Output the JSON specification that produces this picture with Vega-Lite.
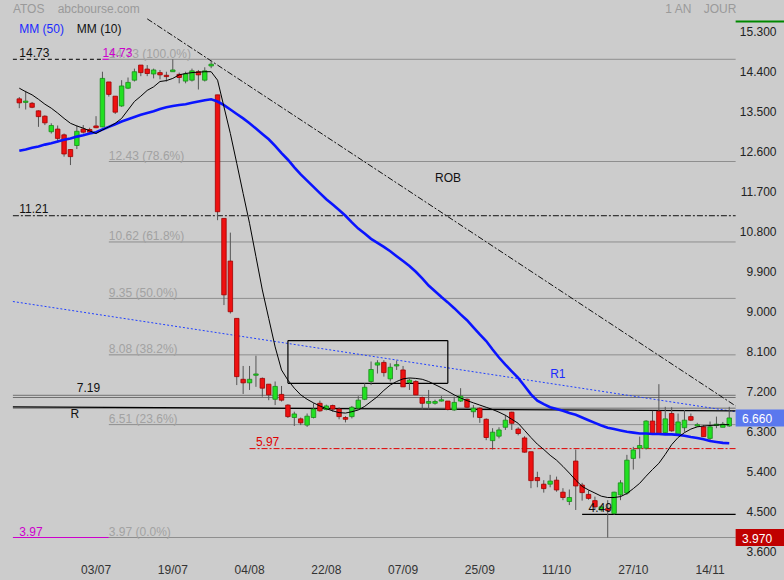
{
"$schema": "https://vega.github.io/schema/vega-lite/v6.json",
"width": 784,
"height": 560,
"autosize": {"type": "none"},
"padding": {"left": 0, "right": 0, "top": 0, "bottom": 20},
"background": "#cccccc",
"config": {"view": {"stroke": null}, "font": "Liberation Sans", "text": {"font": "Liberation Sans"},
 "axisY": {"ticks": false, "domain": false, "grid": false, "labelAlign": "right", "labelPadding": -8, "labelOffset": -2.5,
  "labelBaseline": "middle", "labelFontSize": 12, "labelColor": "#222222", "labelFont": "Liberation Sans"}},
"datasets": {
"candles": [
{"d":"2023-06-15","o":13.84,"h":13.88,"l":13.63,"c":13.75,"ma10":14.08,"ma50":12.67},
{"d":"2023-06-16","o":13.76,"h":14.02,"l":13.60,"c":13.79,"ma10":14.00,"ma50":12.70},
{"d":"2023-06-19","o":13.74,"h":13.77,"l":13.63,"c":13.65,"ma10":13.93,"ma50":12.74},
{"d":"2023-06-20","o":13.57,"h":13.58,"l":13.21,"c":13.44,"ma10":13.83,"ma50":12.77},
{"d":"2023-06-21","o":13.45,"h":13.47,"l":13.25,"c":13.30,"ma10":13.72,"ma50":12.81},
{"d":"2023-06-22","o":13.10,"h":13.29,"l":13.06,"c":13.24,"ma10":13.63,"ma50":12.84},
{"d":"2023-06-23","o":13.16,"h":13.24,"l":12.86,"c":12.95,"ma10":13.52,"ma50":12.88},
{"d":"2023-06-26","o":13.03,"h":13.06,"l":12.54,"c":12.60,"ma10":13.40,"ma50":12.92},
{"d":"2023-06-27","o":12.70,"h":12.70,"l":12.35,"c":12.54,"ma10":13.29,"ma50":12.95},
{"d":"2023-06-28","o":12.79,"h":13.24,"l":12.71,"c":13.11,"ma10":13.23,"ma50":12.99},
{"d":"2023-06-29","o":13.16,"h":13.25,"l":13.06,"c":13.09,"ma10":13.18,"ma50":13.02},
{"d":"2023-06-30","o":13.15,"h":13.19,"l":13.06,"c":13.09,"ma10":13.12,"ma50":13.06},
{"d":"2023-07-03","o":13.23,"h":13.45,"l":13.18,"c":13.19,"ma10":13.06,"ma50":13.09},
{"d":"2023-07-04","o":13.21,"h":14.45,"l":13.20,"c":14.30,"ma10":13.14,"ma50":13.15},
{"d":"2023-07-05","o":14.22,"h":14.22,"l":13.89,"c":13.94,"ma10":13.21,"ma50":13.21},
{"d":"2023-07-06","o":13.90,"h":13.90,"l":13.50,"c":13.54,"ma10":13.29,"ma50":13.27},
{"d":"2023-07-07","o":13.68,"h":14.26,"l":13.66,"c":14.13,"ma10":13.40,"ma50":13.33},
{"d":"2023-07-10","o":14.08,"h":14.32,"l":14.06,"c":14.21,"ma10":13.59,"ma50":13.38},
{"d":"2023-07-11","o":14.26,"h":14.52,"l":14.23,"c":14.45,"ma10":13.78,"ma50":13.43},
{"d":"2023-07-12","o":14.60,"h":14.60,"l":14.35,"c":14.43,"ma10":13.90,"ma50":13.48},
{"d":"2023-07-13","o":14.51,"h":14.60,"l":14.35,"c":14.41,"ma10":14.03,"ma50":13.52},
{"d":"2023-07-14","o":14.40,"h":14.52,"l":14.30,"c":14.49,"ma10":14.11,"ma50":13.56},
{"d":"2023-07-17","o":14.43,"h":14.49,"l":14.28,"c":14.38,"ma10":14.23,"ma50":13.61},
{"d":"2023-07-18","o":14.37,"h":14.45,"l":14.23,"c":14.34,"ma10":14.25,"ma50":13.65},
{"d":"2023-07-19","o":14.45,"h":14.73,"l":14.45,"c":14.49,"ma10":14.30,"ma50":13.68},
{"d":"2023-07-20","o":14.39,"h":14.43,"l":14.19,"c":14.32,"ma10":14.38,"ma50":13.70},
{"d":"2023-07-21","o":14.24,"h":14.45,"l":14.19,"c":14.40,"ma10":14.41,"ma50":13.72},
{"d":"2023-07-24","o":14.26,"h":14.52,"l":14.23,"c":14.47,"ma10":14.43,"ma50":13.75},
{"d":"2023-07-25","o":14.45,"h":14.49,"l":14.05,"c":14.38,"ma10":14.44,"ma50":13.78},
{"d":"2023-07-26","o":14.26,"h":14.55,"l":14.23,"c":14.47,"ma10":14.45,"ma50":13.81},
{"d":"2023-07-27","o":14.58,"h":14.70,"l":14.53,"c":14.62,"ma10":14.45,"ma50":13.83},
{"d":"2023-07-28","o":13.93,"h":13.93,"l":11.11,"c":11.30,"ma10":14.26,"ma50":13.78},
{"d":"2023-07-31","o":11.15,"h":11.15,"l":9.20,"c":9.43,"ma10":13.66,"ma50":13.70},
{"d":"2023-08-01","o":10.19,"h":10.83,"l":9.01,"c":9.05,"ma10":13.06,"ma50":13.60},
{"d":"2023-08-02","o":8.90,"h":8.90,"l":7.40,"c":7.59,"ma10":12.39,"ma50":13.50},
{"d":"2023-08-03","o":7.53,"h":7.83,"l":7.20,"c":7.45,"ma10":11.71,"ma50":13.40},
{"d":"2023-08-04","o":7.45,"h":7.83,"l":7.29,"c":7.53,"ma10":11.04,"ma50":13.29},
{"d":"2023-08-07","o":7.62,"h":8.06,"l":7.36,"c":7.65,"ma10":10.29,"ma50":13.17},
{"d":"2023-08-08","o":7.55,"h":7.57,"l":7.14,"c":7.33,"ma10":9.54,"ma50":13.05},
{"d":"2023-08-09","o":7.42,"h":7.42,"l":7.06,"c":7.18,"ma10":8.90,"ma50":12.93},
{"d":"2023-08-10","o":7.08,"h":7.48,"l":6.95,"c":7.37,"ma10":8.26,"ma50":12.78},
{"d":"2023-08-11","o":7.19,"h":7.38,"l":7.03,"c":7.06,"ma10":7.74,"ma50":12.62},
{"d":"2023-08-14","o":6.95,"h":6.97,"l":6.66,"c":6.69,"ma10":7.51,"ma50":12.47},
{"d":"2023-08-15","o":6.67,"h":6.80,"l":6.48,"c":6.75,"ma10":7.33,"ma50":12.30},
{"d":"2023-08-16","o":6.64,"h":6.67,"l":6.50,"c":6.55,"ma10":7.18,"ma50":12.14},
{"d":"2023-08-17","o":6.50,"h":6.76,"l":6.46,"c":6.70,"ma10":7.08,"ma50":12.00},
{"d":"2023-08-18","o":6.67,"h":6.99,"l":6.65,"c":6.86,"ma10":7.00,"ma50":11.86},
{"d":"2023-08-21","o":6.99,"h":7.05,"l":6.80,"c":6.82,"ma10":6.93,"ma50":11.72},
{"d":"2023-08-22","o":6.85,"h":6.96,"l":6.83,"c":6.93,"ma10":6.87,"ma50":11.58},
{"d":"2023-08-23","o":6.94,"h":6.96,"l":6.80,"c":6.86,"ma10":6.82,"ma50":11.46},
{"d":"2023-08-24","o":6.86,"h":6.90,"l":6.63,"c":6.69,"ma10":6.78,"ma50":11.34},
{"d":"2023-08-25","o":6.67,"h":6.70,"l":6.56,"c":6.63,"ma10":6.77,"ma50":11.21},
{"d":"2023-08-28","o":6.69,"h":6.93,"l":6.65,"c":6.90,"ma10":6.80,"ma50":11.06},
{"d":"2023-08-29","o":6.88,"h":7.15,"l":6.86,"c":7.06,"ma10":6.84,"ma50":10.92},
{"d":"2023-08-30","o":7.08,"h":7.44,"l":7.06,"c":7.35,"ma10":6.92,"ma50":10.81},
{"d":"2023-08-31","o":7.48,"h":7.93,"l":7.40,"c":7.75,"ma10":7.03,"ma50":10.69},
{"d":"2023-09-01","o":7.85,"h":7.96,"l":7.66,"c":7.90,"ma10":7.14,"ma50":10.60},
{"d":"2023-09-04","o":7.91,"h":7.96,"l":7.59,"c":7.68,"ma10":7.28,"ma50":10.51},
{"d":"2023-09-05","o":7.54,"h":7.89,"l":7.48,"c":7.80,"ma10":7.40,"ma50":10.41},
{"d":"2023-09-06","o":7.83,"h":7.95,"l":7.74,"c":7.86,"ma10":7.48,"ma50":10.30},
{"d":"2023-09-07","o":7.74,"h":7.83,"l":7.36,"c":7.36,"ma10":7.54,"ma50":10.19},
{"d":"2023-09-08","o":7.46,"h":7.55,"l":7.29,"c":7.51,"ma10":7.56,"ma50":10.08},
{"d":"2023-09-11","o":7.48,"h":7.51,"l":7.18,"c":7.18,"ma10":7.55,"ma50":9.95},
{"d":"2023-09-12","o":7.12,"h":7.14,"l":6.85,"c":6.99,"ma10":7.53,"ma50":9.80},
{"d":"2023-09-13","o":6.99,"h":7.29,"l":6.85,"c":7.03,"ma10":7.48,"ma50":9.64},
{"d":"2023-09-14","o":6.99,"h":7.07,"l":6.96,"c":7.03,"ma10":7.41,"ma50":9.51},
{"d":"2023-09-15","o":7.04,"h":7.15,"l":7.03,"c":7.07,"ma10":7.34,"ma50":9.38},
{"d":"2023-09-18","o":7.04,"h":7.04,"l":6.83,"c":6.85,"ma10":7.26,"ma50":9.26},
{"d":"2023-09-19","o":6.84,"h":7.14,"l":6.82,"c":7.01,"ma10":7.18,"ma50":9.13},
{"d":"2023-09-20","o":7.04,"h":7.33,"l":7.02,"c":7.15,"ma10":7.11,"ma50":8.99},
{"d":"2023-09-21","o":7.08,"h":7.10,"l":6.88,"c":6.90,"ma10":7.05,"ma50":8.86},
{"d":"2023-09-22","o":6.80,"h":6.95,"l":6.67,"c":6.88,"ma10":7.00,"ma50":8.70},
{"d":"2023-09-25","o":6.88,"h":6.90,"l":6.55,"c":6.67,"ma10":6.95,"ma50":8.54},
{"d":"2023-09-26","o":6.63,"h":6.65,"l":6.16,"c":6.22,"ma10":6.90,"ma50":8.39},
{"d":"2023-09-27","o":6.15,"h":6.43,"l":5.95,"c":6.34,"ma10":6.85,"ma50":8.20},
{"d":"2023-09-28","o":6.25,"h":6.45,"l":6.20,"c":6.39,"ma10":6.79,"ma50":8.02},
{"d":"2023-09-29","o":6.45,"h":6.73,"l":6.39,"c":6.61,"ma10":6.72,"ma50":7.86},
{"d":"2023-10-02","o":6.79,"h":6.80,"l":6.39,"c":6.54,"ma10":6.63,"ma50":7.71},
{"d":"2023-10-03","o":6.41,"h":6.45,"l":6.27,"c":6.31,"ma10":6.54,"ma50":7.56},
{"d":"2023-10-04","o":6.21,"h":6.25,"l":5.88,"c":5.89,"ma10":6.38,"ma50":7.38},
{"d":"2023-10-05","o":5.90,"h":5.90,"l":5.08,"c":5.25,"ma10":6.22,"ma50":7.19},
{"d":"2023-10-06","o":5.32,"h":5.45,"l":5.10,"c":5.25,"ma10":6.07,"ma50":7.05},
{"d":"2023-10-09","o":5.17,"h":5.26,"l":4.98,"c":5.07,"ma10":5.95,"ma50":6.97},
{"d":"2023-10-10","o":5.17,"h":5.38,"l":5.10,"c":5.24,"ma10":5.82,"ma50":6.90},
{"d":"2023-10-11","o":5.26,"h":5.34,"l":5.00,"c":5.04,"ma10":5.71,"ma50":6.86},
{"d":"2023-10-12","o":4.99,"h":5.08,"l":4.81,"c":4.87,"ma10":5.57,"ma50":6.82},
{"d":"2023-10-13","o":4.78,"h":5.05,"l":4.70,"c":4.87,"ma10":5.42,"ma50":6.77},
{"d":"2023-10-16","o":5.69,"h":5.95,"l":4.59,"c":5.13,"ma10":5.26,"ma50":6.73},
{"d":"2023-10-17","o":5.15,"h":5.20,"l":4.80,"c":4.98,"ma10":5.12,"ma50":6.67},
{"d":"2023-10-18","o":4.94,"h":5.03,"l":4.82,"c":4.85,"ma10":5.04,"ma50":6.61},
{"d":"2023-10-19","o":4.80,"h":4.89,"l":4.59,"c":4.66,"ma10":4.97,"ma50":6.55},
{"d":"2023-10-20","o":4.59,"h":4.70,"l":4.55,"c":4.66,"ma10":4.90,"ma50":6.49},
{"d":"2023-10-23","o":4.62,"h":4.81,"l":3.97,"c":4.58,"ma10":4.87,"ma50":6.44},
{"d":"2023-10-24","o":4.51,"h":5.00,"l":4.48,"c":4.99,"ma10":4.87,"ma50":6.41},
{"d":"2023-10-25","o":4.93,"h":5.26,"l":4.81,"c":5.20,"ma10":4.89,"ma50":6.38},
{"d":"2023-10-26","o":4.97,"h":5.83,"l":4.93,"c":5.71,"ma10":4.96,"ma50":6.35},
{"d":"2023-10-27","o":5.75,"h":6.01,"l":5.50,"c":5.94,"ma10":5.07,"ma50":6.33},
{"d":"2023-10-30","o":5.98,"h":6.24,"l":5.75,"c":6.04,"ma10":5.19,"ma50":6.31},
{"d":"2023-10-31","o":5.98,"h":6.61,"l":5.95,"c":6.59,"ma10":5.35,"ma50":6.31},
{"d":"2023-11-01","o":6.59,"h":6.82,"l":6.29,"c":6.31,"ma10":5.50,"ma50":6.30},
{"d":"2023-11-02","o":6.81,"h":7.42,"l":6.30,"c":6.31,"ma10":5.64,"ma50":6.30},
{"d":"2023-11-03","o":6.33,"h":6.91,"l":6.31,"c":6.64,"ma10":5.84,"ma50":6.29},
{"d":"2023-11-06","o":6.76,"h":6.90,"l":6.35,"c":6.37,"ma10":6.06,"ma50":6.29},
{"d":"2023-11-07","o":6.29,"h":6.76,"l":6.29,"c":6.57,"ma10":6.22,"ma50":6.28},
{"d":"2023-11-08","o":6.44,"h":6.84,"l":6.35,"c":6.61,"ma10":6.33,"ma50":6.26},
{"d":"2023-11-09","o":6.69,"h":6.76,"l":6.59,"c":6.61,"ma10":6.41,"ma50":6.23},
{"d":"2023-11-10","o":6.48,"h":6.55,"l":6.46,"c":6.51,"ma10":6.46,"ma50":6.21},
{"d":"2023-11-13","o":6.46,"h":6.50,"l":6.24,"c":6.24,"ma10":6.48,"ma50":6.18},
{"d":"2023-11-14","o":6.20,"h":6.58,"l":6.12,"c":6.46,"ma10":6.49,"ma50":6.14},
{"d":"2023-11-15","o":6.49,"h":6.69,"l":6.43,"c":6.52,"ma10":6.50,"ma50":6.12},
{"d":"2023-11-16","o":6.45,"h":6.57,"l":6.45,"c":6.52,"ma10":6.51,"ma50":6.10},
{"d":"2023-11-17","o":6.48,"h":6.91,"l":6.46,"c":6.66,"ma10":6.51,"ma50":6.09}
],
"segs": [
{"kind":"fib","d":"2023-07-05","d2":"2023-11-20","v":14.73,"v2":14.73},
{"kind":"fib","d":"2023-07-05","d2":"2023-11-20","v":12.43,"v2":12.43},
{"kind":"fib","d":"2023-07-05","d2":"2023-11-20","v":10.62,"v2":10.62},
{"kind":"fib","d":"2023-07-05","d2":"2023-11-20","v":9.35,"v2":9.35},
{"kind":"fib","d":"2023-07-05","d2":"2023-11-20","v":8.08,"v2":8.08},
{"kind":"fib","d":"2023-07-05","d2":"2023-11-20","v":6.51,"v2":6.51},
{"kind":"fib","d":"2023-07-05","d2":"2023-11-20","v":3.97,"v2":3.97},
{"kind":"gray","d":"2023-06-14","d2":"2023-11-20","v":7.17,"v2":7.17},
{"kind":"gray","d":"2023-06-14","d2":"2023-11-20","v":7.12,"v2":7.12},
{"kind":"gray","d":"2023-06-14","d2":"2023-11-20","v":6.88,"v2":6.88},
{"kind":"pivot","d":"2023-06-14","d2":"2023-07-04","v":14.73,"v2":14.73},
{"kind":"magenta","d":"2023-07-04","d2":"2023-07-05","v":14.73,"v2":14.73},
{"kind":"magenta","d":"2023-06-14","d2":"2023-07-05","v":3.97,"v2":3.97},
{"kind":"dashdot","d":"2023-06-14","d2":"2023-11-20","v":11.21,"v2":11.21},
{"kind":"dashdot","d":"2023-07-13","d2":"2023-11-20","v":15.64,"v2":6.93},
{"kind":"red","d":"2023-08-04","d2":"2023-11-20","v":5.97,"v2":5.97},
{"kind":"solid","d":"2023-06-14","d2":"2023-11-20","v":6.91,"v2":6.82},
{"kind":"solid","d":"2023-10-17","d2":"2023-11-20","v":4.49,"v2":4.49},
{"kind":"solid","d":"2023-08-14","d2":"2023-09-18","v":8.40,"v2":8.40},
{"kind":"solid","d":"2023-08-14","d2":"2023-09-18","v":7.44,"v2":7.44},
{"kind":"solid","d":"2023-08-14","d2":"2023-08-14","v":7.44,"v2":8.40},
{"kind":"solid","d":"2023-09-18","d2":"2023-09-18","v":7.44,"v2":8.40},
{"kind":"r1","d":"2023-06-14","d2":"2023-11-20","v":9.28,"v2":6.80},
{"kind":"green","d":"2023-11-20","d2":"2023-11-30","v":15.58,"v2":15.58}
],
"tags": [
{"kind":"last","d":"2023-11-20","d2":"2023-11-30","v":6.66},
{"kind":"low","d":"2023-11-20","d2":"2023-11-30","v":3.97}
],
"labels": [
{"kind":"header","d":"2023-06-14","v":15.86,"text":"ATOS"},
{"kind":"header","d":"2023-06-23","v":15.86,"text":"abcbourse.com"},
{"kind":"header","d":"2023-11-03","v":15.87,"text":"1 AN"},
{"kind":"header","d":"2023-11-13","v":15.87,"text":"JOUR"},
{"kind":"blue","d":"2023-06-15","v":15.405,"text":"MM (50)"},
{"kind":"black","d":"2023-06-28","v":15.405,"text":"MM (10)"},
{"kind":"black","d":"2023-06-15","v":14.88,"text":"14.73"},
{"kind":"fib","d":"2023-07-05","v":14.854,"text":"14.73 (100.0%)"},
{"kind":"magenta","d":"2023-07-04","v":14.88,"text":"14.73"},
{"kind":"fib","d":"2023-07-05","v":12.554,"text":"12.43 (78.6%)"},
{"kind":"fib","d":"2023-07-05","v":10.744,"text":"10.62 (61.8%)"},
{"kind":"fib","d":"2023-07-05","v":9.474,"text":"9.35 (50.0%)"},
{"kind":"fib","d":"2023-07-05","v":8.204,"text":"8.08 (38.2%)"},
{"kind":"fib","d":"2023-07-05","v":6.634,"text":"6.51 (23.6%)"},
{"kind":"fib","d":"2023-07-05","v":4.094,"text":"3.97 (0.0%)"},
{"kind":"black","d":"2023-06-15","v":11.36,"text":"11.21"},
{"kind":"black","d":"2023-06-28","v":7.33,"text":"7.19"},
{"kind":"black","d":"2023-06-27","v":6.75,"text":"R"},
{"kind":"red","d":"2023-08-07","v":6.12,"text":"5.97"},
{"kind":"black","d":"2023-10-18","v":4.625,"text":"4.49"},
{"kind":"black","d":"2023-09-14","v":12.07,"text":"ROB"},
{"kind":"blue","d":"2023-10-10","v":7.66,"text":"R1"},
{"kind":"magenta","d":"2023-06-15","v":4.10,"text":"3.97"},
{"kind":"tag","d":"2023-11-21","v":6.63,"text":"6.660"},
{"kind":"tag","d":"2023-11-21","v":3.94,"text":"3.970"}
]
},
"encoding": {
"x": {"field": "d", "type": "ordinal",
 "scale": {"type": "band", "paddingInner": 0, "paddingOuter": 0, "range": [9.7, 790.0],
 "domain": ["2023-06-14","2023-06-15","2023-06-16","2023-06-19","2023-06-20","2023-06-21","2023-06-22","2023-06-23","2023-06-26","2023-06-27","2023-06-28","2023-06-29","2023-06-30","2023-07-03","2023-07-04","2023-07-05","2023-07-06","2023-07-07","2023-07-10","2023-07-11","2023-07-12","2023-07-13","2023-07-14","2023-07-17","2023-07-18","2023-07-19","2023-07-20","2023-07-21","2023-07-24","2023-07-25","2023-07-26","2023-07-27","2023-07-28","2023-07-31","2023-08-01","2023-08-02","2023-08-03","2023-08-04","2023-08-07","2023-08-08","2023-08-09","2023-08-10","2023-08-11","2023-08-14","2023-08-15","2023-08-16","2023-08-17","2023-08-18","2023-08-21","2023-08-22","2023-08-23","2023-08-24","2023-08-25","2023-08-28","2023-08-29","2023-08-30","2023-08-31","2023-09-01","2023-09-04","2023-09-05","2023-09-06","2023-09-07","2023-09-08","2023-09-11","2023-09-12","2023-09-13","2023-09-14","2023-09-15","2023-09-18","2023-09-19","2023-09-20","2023-09-21","2023-09-22","2023-09-25","2023-09-26","2023-09-27","2023-09-28","2023-09-29","2023-10-02","2023-10-03","2023-10-04","2023-10-05","2023-10-06","2023-10-09","2023-10-10","2023-10-11","2023-10-12","2023-10-13","2023-10-16","2023-10-17","2023-10-18","2023-10-19","2023-10-20","2023-10-23","2023-10-24","2023-10-25","2023-10-26","2023-10-27","2023-10-30","2023-10-31","2023-11-01","2023-11-02","2023-11-03","2023-11-06","2023-11-07","2023-11-08","2023-11-09","2023-11-10","2023-11-13","2023-11-14","2023-11-15","2023-11-16","2023-11-17","2023-11-20","2023-11-21","2023-11-22","2023-11-23","2023-11-24","2023-11-27","2023-11-28","2023-11-29","2023-11-30"]},
 "axis": {"title": null, "values": ["2023-07-03","2023-07-19","2023-08-04","2023-08-22","2023-09-07","2023-09-25","2023-10-11","2023-10-27","2023-11-14"],
  "labelExpr": "substring(datum.value, 8, 10) + '/' + substring(datum.value, 5, 7)",
  "bandPosition": 0, "ticks": false, "domain": false, "grid": false, "labelAngle": 0, "labelPadding": 4,
  "labelFontSize": 12, "labelColor": "#333333", "labelFont": "Liberation Sans"}}
},
"layer": [
{"data": {"name": "segs"}, "transform": [{"filter": "datum.kind === 'fib'"}],
 "mark": {"type": "rule", "color": "#8e8e8e", "strokeWidth": 1},
 "encoding": {"x2": {"field": "d2"},
  "y": {"field": "v", "type": "quantitative", "scale": {"domain": [3.464, 16.064], "nice": false, "zero": false},
   "axis": {"orient": "right", "title": null, "format": ".3f", "values": [3.6, 4.5, 5.4, 6.3, 7.2, 8.1, 9.0, 9.9, 10.8, 11.7, 12.6, 13.5, 14.4, 15.3]}},
  "y2": {"field": "v2"}}},
{"data": {"name": "segs"}, "transform": [{"filter": "datum.kind === 'gray'"}],
 "mark": {"type": "rule", "color": "#707070", "strokeWidth": 1},
 "encoding": {"x2": {"field": "d2"}, "y": {"field": "v", "type": "quantitative", "scale": {"domain": [3.464, 16.064], "nice": false, "zero": false}, "axis": {"orient": "right", "title": null, "format": ".3f", "values": [3.6, 4.5, 5.4, 6.3, 7.2, 8.1, 9.0, 9.9, 10.8, 11.7, 12.6, 13.5, 14.4, 15.3]}}, "y2": {"field": "v2"}}},
{"data": {"name": "segs"}, "transform": [{"filter": "datum.kind === 'pivot'"}],
 "mark": {"type": "rule", "color": "#000000", "strokeWidth": 1, "strokeDash": [4, 3]},
 "encoding": {"x2": {"field": "d2"}, "y": {"field": "v", "type": "quantitative", "scale": {"domain": [3.464, 16.064], "nice": false, "zero": false}, "axis": {"orient": "right", "title": null, "format": ".3f", "values": [3.6, 4.5, 5.4, 6.3, 7.2, 8.1, 9.0, 9.9, 10.8, 11.7, 12.6, 13.5, 14.4, 15.3]}}, "y2": {"field": "v2"}}},
{"data": {"name": "segs"}, "transform": [{"filter": "datum.kind === 'magenta'"}],
 "mark": {"type": "rule", "color": "#cc00cc", "strokeWidth": 1.2},
 "encoding": {"x2": {"field": "d2"}, "y": {"field": "v", "type": "quantitative", "scale": {"domain": [3.464, 16.064], "nice": false, "zero": false}, "axis": {"orient": "right", "title": null, "format": ".3f", "values": [3.6, 4.5, 5.4, 6.3, 7.2, 8.1, 9.0, 9.9, 10.8, 11.7, 12.6, 13.5, 14.4, 15.3]}}, "y2": {"field": "v2"}}},
{"data": {"name": "segs"}, "transform": [{"filter": "datum.kind === 'dashdot'"}],
 "mark": {"type": "rule", "color": "#111111", "strokeWidth": 1, "strokeDash": [6, 2, 2, 2]},
 "encoding": {"x2": {"field": "d2"}, "y": {"field": "v", "type": "quantitative", "scale": {"domain": [3.464, 16.064], "nice": false, "zero": false}, "axis": {"orient": "right", "title": null, "format": ".3f", "values": [3.6, 4.5, 5.4, 6.3, 7.2, 8.1, 9.0, 9.9, 10.8, 11.7, 12.6, 13.5, 14.4, 15.3]}}, "y2": {"field": "v2"}}},
{"data": {"name": "segs"}, "transform": [{"filter": "datum.kind === 'red'"}],
 "mark": {"type": "rule", "color": "#e00000", "strokeWidth": 1, "strokeDash": [6, 2, 2, 2]},
 "encoding": {"x2": {"field": "d2"}, "y": {"field": "v", "type": "quantitative", "scale": {"domain": [3.464, 16.064], "nice": false, "zero": false}, "axis": {"orient": "right", "title": null, "format": ".3f", "values": [3.6, 4.5, 5.4, 6.3, 7.2, 8.1, 9.0, 9.9, 10.8, 11.7, 12.6, 13.5, 14.4, 15.3]}}, "y2": {"field": "v2"}}},
{"data": {"name": "segs"}, "transform": [{"filter": "datum.kind === 'r1'"}],
 "mark": {"type": "rule", "color": "#2040ff", "strokeWidth": 1, "strokeDash": [2, 2]},
 "encoding": {"x2": {"field": "d2"}, "y": {"field": "v", "type": "quantitative", "scale": {"domain": [3.464, 16.064], "nice": false, "zero": false}, "axis": {"orient": "right", "title": null, "format": ".3f", "values": [3.6, 4.5, 5.4, 6.3, 7.2, 8.1, 9.0, 9.9, 10.8, 11.7, 12.6, 13.5, 14.4, 15.3]}}, "y2": {"field": "v2"}}},
{"data": {"name": "segs"}, "transform": [{"filter": "datum.kind === 'solid'"}],
 "mark": {"type": "rule", "color": "#000000", "strokeWidth": 1.2},
 "encoding": {"x2": {"field": "d2"}, "y": {"field": "v", "type": "quantitative", "scale": {"domain": [3.464, 16.064], "nice": false, "zero": false}, "axis": {"orient": "right", "title": null, "format": ".3f", "values": [3.6, 4.5, 5.4, 6.3, 7.2, 8.1, 9.0, 9.9, 10.8, 11.7, 12.6, 13.5, 14.4, 15.3]}}, "y2": {"field": "v2"}}},
{"data": {"name": "segs"}, "transform": [{"filter": "datum.kind === 'green'"}],
 "mark": {"type": "rule", "color": "#008800", "strokeWidth": 2},
 "encoding": {"x2": {"field": "d2"}, "y": {"field": "v", "type": "quantitative", "scale": {"domain": [3.464, 16.064], "nice": false, "zero": false}, "axis": {"orient": "right", "title": null, "format": ".3f", "values": [3.6, 4.5, 5.4, 6.3, 7.2, 8.1, 9.0, 9.9, 10.8, 11.7, 12.6, 13.5, 14.4, 15.3]}}, "y2": {"field": "v2"}}},
{"data": {"name": "candles"},
 "mark": {"type": "rule", "color": "#555555", "strokeWidth": 1},
 "encoding": {"y": {"field": "l", "type": "quantitative", "scale": {"domain": [3.464, 16.064], "nice": false, "zero": false}, "axis": {"orient": "right", "title": null, "format": ".3f", "values": [3.6, 4.5, 5.4, 6.3, 7.2, 8.1, 9.0, 9.9, 10.8, 11.7, 12.6, 13.5, 14.4, 15.3]}}, "y2": {"field": "h"}}},
{"data": {"name": "candles"},
 "mark": {"type": "bar", "width": {"band": 0.7}, "strokeWidth": 0.8},
 "encoding": {"y": {"field": "o", "type": "quantitative", "scale": {"domain": [3.464, 16.064], "nice": false, "zero": false}, "axis": {"orient": "right", "title": null, "format": ".3f", "values": [3.6, 4.5, 5.4, 6.3, 7.2, 8.1, 9.0, 9.9, 10.8, 11.7, 12.6, 13.5, 14.4, 15.3]}}, "y2": {"field": "c"},
  "fill": {"condition": {"test": "datum.c >= datum.o", "value": "#22e022"}, "value": "#ee1111"},
  "stroke": {"condition": {"test": "datum.c >= datum.o", "value": "#1a8a1a"}, "value": "#a00000"}}},
{"data": {"name": "candles"},
 "mark": {"type": "line", "color": "#0a14ff", "strokeWidth": 2.6},
 "encoding": {"y": {"field": "ma50", "type": "quantitative", "scale": {"domain": [3.464, 16.064], "nice": false, "zero": false}, "axis": {"orient": "right", "title": null, "format": ".3f", "values": [3.6, 4.5, 5.4, 6.3, 7.2, 8.1, 9.0, 9.9, 10.8, 11.7, 12.6, 13.5, 14.4, 15.3]}}}},
{"data": {"name": "candles"},
 "mark": {"type": "line", "color": "#000000", "strokeWidth": 1},
 "encoding": {"y": {"field": "ma10", "type": "quantitative", "scale": {"domain": [3.464, 16.064], "nice": false, "zero": false}, "axis": {"orient": "right", "title": null, "format": ".3f", "values": [3.6, 4.5, 5.4, 6.3, 7.2, 8.1, 9.0, 9.9, 10.8, 11.7, 12.6, 13.5, 14.4, 15.3]}}}},
{"data": {"name": "tags"},
 "mark": {"type": "rule", "strokeWidth": 17, "strokeCap": "butt"},
 "encoding": {"x2": {"field": "d2"}, "y": {"field": "v", "type": "quantitative", "scale": {"domain": [3.464, 16.064], "nice": false, "zero": false}, "axis": {"orient": "right", "title": null, "format": ".3f", "values": [3.6, 4.5, 5.4, 6.3, 7.2, 8.1, 9.0, 9.9, 10.8, 11.7, 12.6, 13.5, 14.4, 15.3]}},
  "stroke": {"field": "kind", "type": "nominal", "scale": {"domain": ["last", "low"], "range": ["#5a78ee", "#c00000"]}, "legend": null}}},
{"data": {"name": "labels"},
 "mark": {"type": "text", "align": "left", "baseline": "middle", "fontSize": 12, "font": "Liberation Sans"},
 "encoding": {"y": {"field": "v", "type": "quantitative", "scale": {"domain": [3.464, 16.064], "nice": false, "zero": false}, "axis": {"orient": "right", "title": null, "format": ".3f", "values": [3.6, 4.5, 5.4, 6.3, 7.2, 8.1, 9.0, 9.9, 10.8, 11.7, 12.6, 13.5, 14.4, 15.3]}},
  "text": {"field": "text"},
  "fill": {"field": "kind", "type": "nominal", "scale": {"domain": ["header", "black", "blue", "red", "magenta", "fib", "tag"], "range": ["#9a9a9a", "#111111", "#1a2aff", "#e00000", "#cc00cc", "#a2a2a2", "#ffffff"]}, "legend": null}}}
]
}
